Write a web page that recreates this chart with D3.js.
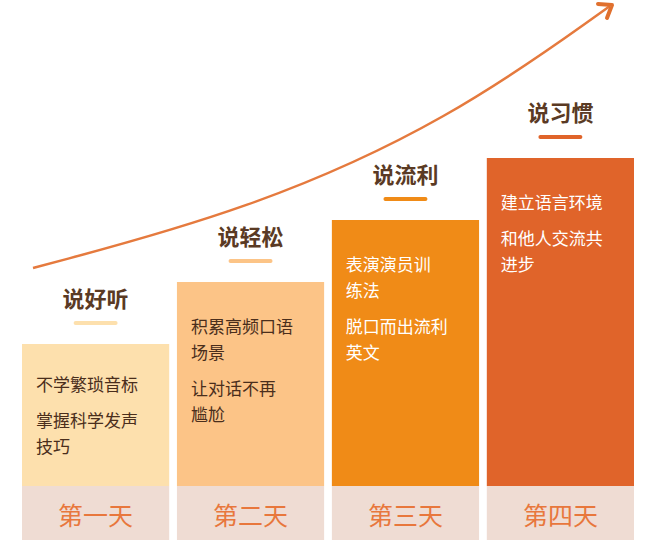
<!DOCTYPE html>
<html><head><meta charset="utf-8">
<script src="https://cdn.jsdelivr.net/npm/d3@7"></script>
<style>body{margin:0;background:#fff}text{font-family:"Noto Sans CJK SC",sans-serif}</style>
</head><body>
<script>
// stage data
var days = ["第一天", "第二天", "第三天", "第四天"];
var titles = ["说好听", "说轻松", "说流利", "说习惯"];
var levels = [1, 2, 3, 4];
var notes = [
  [["不学繁琐音标"], ["掌握科学发声", "技巧"]],
  [["积累高频口语", "场景"], ["让对话不再", "尴尬"]],
  [["表演演员训", "练法"], ["脱口而出流利", "英文"]],
  [["建立语言环境"], ["和他人交流共", "进步"]]
];
var colors = ["#fde0ad", "#fcc487", "#f08b17", "#e0642a"];
var inkColors = ["#4a2e1c", "#4a2e1c", "#fff", "#fff"];

var width = 650, height = 552;
var svg = d3.select("body").append("svg").attr("width", width).attr("height", height);

var x = d3.scaleBand().domain(days).range([22, 634]).paddingInner(0.05).paddingOuter(0);
var y = d3.scaleLinear().domain([0, 4]).range([406, 158]);
var baseY = 486, bandBottom = 540;

// growth arrow
var curve = d3.line().curve(d3.curveBasis);
svg.append("path")
  .attr("d", curve([[33, 268], [250, 210], [450, 120], [610, 6]]))
  .attr("fill", "none").attr("stroke", "#e57a3e").attr("stroke-width", 2.5);
svg.append("path")
  .attr("d", "M598,4 L612,5 L607,18")
  .attr("fill", "none").attr("stroke", "#e0702e").attr("stroke-width", 4)
  .attr("stroke-linecap", "round").attr("stroke-linejoin", "round");

var g = svg.selectAll("g.stage").data(days).enter().append("g");

g.append("rect")
  .attr("x", d => x(d)).attr("width", x.bandwidth())
  .attr("y", (d, i) => y(levels[i])).attr("height", (d, i) => baseY - y(levels[i]))
  .attr("fill", (d, i) => colors[i]);

g.append("rect")
  .attr("x", d => x(d)).attr("width", x.bandwidth())
  .attr("y", baseY).attr("height", bandBottom - baseY)
  .attr("fill", "#efdcd3");

g.append("text")
  .attr("x", d => x(d) + x.bandwidth() / 2).attr("y", 525)
  .attr("text-anchor", "middle").attr("font-size", 25)
  .attr("fill", "#e8773c").text(d => d);

g.append("text")
  .attr("x", d => x(d) + x.bandwidth() / 2).attr("y", (d, i) => y(levels[i]) - 37)
  .attr("text-anchor", "middle").attr("font-size", 22).attr("font-weight", "bold")
  .attr("fill", "#5a3a24").text((d, i) => titles[i]);

g.append("rect")
  .attr("x", d => x(d) + x.bandwidth() / 2 - 22).attr("width", 44)
  .attr("y", (d, i) => y(levels[i]) - 23).attr("height", 4).attr("rx", 2)
  .attr("fill", (d, i) => colors[i]);

g.each(function(d, i) {
  var yy = y(levels[i]) + (i === 0 ? 47 : 51);
  var sel = d3.select(this);
  notes[i].forEach(function(block) {
    block.forEach(function(line) {
      sel.append("text").attr("x", x(d) + 14).attr("y", yy)
        .attr("font-size", 17).attr("fill", inkColors[i]).text(line);
      yy += 26;
    });
    yy += 10;
  });
});
</script>
</body></html>
